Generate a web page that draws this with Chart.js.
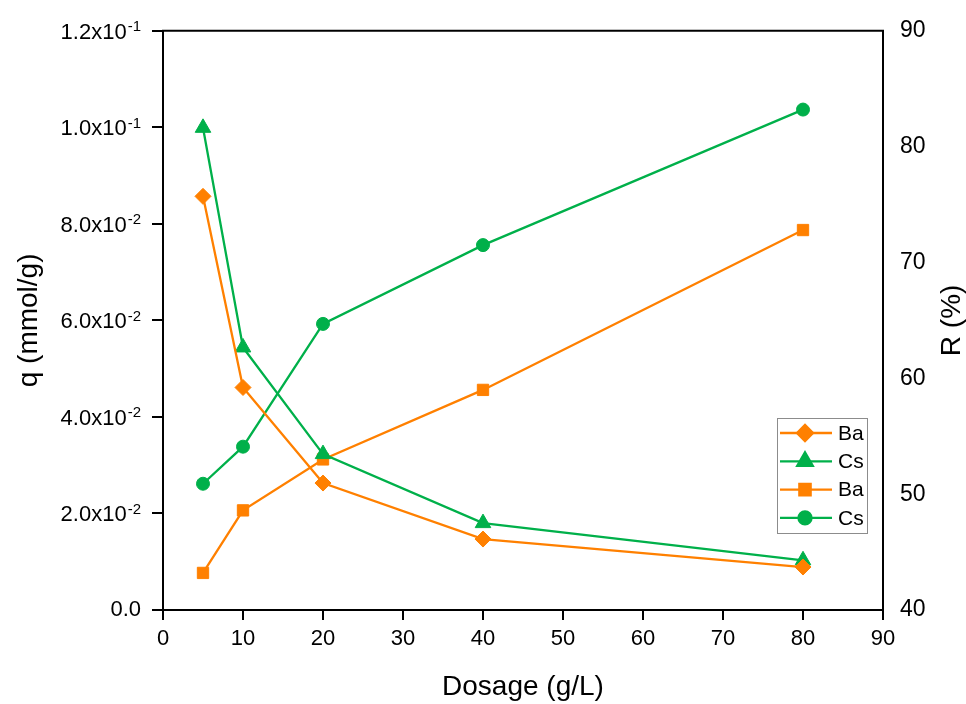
<!DOCTYPE html>
<html>
<head>
<meta charset="utf-8">
<script src="https://cdn.jsdelivr.net/npm/chart.js@4.4.0/dist/chart.umd.min.js"></script>
<style>
  html, body { margin: 0; padding: 0; background: #fff; }
  #wrap { width: 966px; height: 704px; }
</style>
</head>
<body>
<div id="wrap"><canvas id="chart" width="966" height="704"></canvas></div>
<script>
// values
const dosage = [5, 10, 20, 40, 80];
const qBa = [0.0857, 0.0461, 0.0263, 0.0147, 0.0089];
const qCs = [0.0999, 0.0544, 0.0323, 0.0180, 0.0103];
const rBa = [43.2, 48.6, 53.0, 59.0, 72.8];
const rCs = [50.9, 54.1, 64.7, 71.5, 83.2];
const seriesNames = ['Ba', 'Cs', 'Ba', 'Cs'];

const FONT = "'Liberation Sans', Arial, sans-serif";
const ORANGE = '#FF8000';
const GREEN = '#00B04A';

function pts(xs, ys) {
    return xs.map((x, i) => ({ x: x, y: ys[i] }));
}

function series(label, ys, axis, color, style, r) {
    return {
        label: label,
        data: pts(dosage, ys),
        yAxisID: axis,
        borderColor: color,
        backgroundColor: color,
        borderWidth: 2.3,
        pointStyle: style,
        pointRadius: r,
        pointBorderWidth: 1,
        pointBackgroundColor: color,
        pointBorderColor: color,
        tension: 0
    };
}

// q axis labels like 1.2x10^-1
const leftLabels = {
    id: 'leftLabels',
    afterDraw(chart) {
        const s = chart.scales.y;
        const ctx = chart.ctx;
        const right = s.right - 22;
        ctx.save();
        ctx.fillStyle = '#000';
        s.ticks.forEach(t => {
            const v = t.value;
            const y = s.getPixelForValue(v);
            if (Math.abs(v) < 1e-12) {
                ctx.font = '22px ' + FONT;
                ctx.textAlign = 'right';
                ctx.textBaseline = 'middle';
                ctx.fillText('0.0', right, y);
                return;
            }
            const e = Math.floor(Math.log10(v) + 1e-9);
            const main = (v / Math.pow(10, e)).toFixed(1) + 'x10';
            const sup = String(e);
            ctx.font = '15px ' + FONT;
            const ws = ctx.measureText(sup).width;
            ctx.font = '22px ' + FONT;
            const wm = ctx.measureText(main).width;
            const x0 = right - ws - wm - 1;
            ctx.textAlign = 'left';
            ctx.textBaseline = 'alphabetic';
            ctx.fillText(main, x0, y + 8);
            ctx.font = '15px ' + FONT;
            ctx.fillText(sup, x0 + wm + 1, y + 0.5);
        });
        ctx.restore();
    }
};

// top frame line, right title and the legend box
const extras = {
    id: 'extras',
    afterDraw(chart) {
        const ctx = chart.ctx;
        const a = chart.chartArea;
        ctx.save();
        ctx.strokeStyle = '#000';
        ctx.lineWidth = 2;
        ctx.beginPath();
        ctx.moveTo(a.left - 1, a.top);
        ctx.lineTo(a.right + 1, a.top);
        ctx.stroke();

        // R (%) reads bottom to top
        ctx.translate(952, (a.top + a.bottom) / 2);
        ctx.rotate(-Math.PI / 2);
        ctx.font = '28px ' + FONT;
        ctx.fillStyle = '#000';
        ctx.textAlign = 'center';
        ctx.textBaseline = 'middle';
        ctx.fillText('R (%)', 0, 0);
        ctx.restore();

        // legend
        const bx = a.right - 106, by = 418, bw = 90, bh = 115;
        ctx.save();
        ctx.fillStyle = '#fff';
        ctx.fillRect(bx, by, bw, bh);
        ctx.strokeStyle = '#8c8c8c';
        ctx.lineWidth = 1;
        ctx.strokeRect(bx + 0.5, by + 0.5, bw, bh);
        chart.data.datasets.forEach((ds, i) => {
            const y = by + 15 + i * 28.3;
            ctx.strokeStyle = ds.borderColor;
            ctx.fillStyle = ds.borderColor;
            ctx.lineWidth = 2.3;
            ctx.beginPath();
            ctx.moveTo(bx + 3, y);
            ctx.lineTo(bx + 55, y);
            ctx.stroke();
            Chart.helpers.drawPoint(ctx, {
                pointStyle: ds.pointStyle, radius: ds.pointRadius,
                rotation: 0, borderWidth: 1
            }, bx + 28, y);
            ctx.fillStyle = '#000';
            ctx.font = '21px ' + FONT;
            ctx.textAlign = 'left';
            ctx.textBaseline = 'middle';
            ctx.fillText(seriesNames[i], bx + 61, y + 1);
        });
        ctx.restore();
    }
};

new Chart(document.getElementById('chart'), {
    type: 'line',
    data: {
        datasets: [
            series(seriesNames[0], qBa, 'y', ORANGE, 'rectRot', 8),
            series(seriesNames[1], qCs, 'y', GREEN, 'triangle', 9),
            series(seriesNames[2], rBa, 'y1', ORANGE, 'rect', 8),
            series(seriesNames[3], rCs, 'y1', GREEN, 'circle', 6.5)
        ]
    },
    options: {
        responsive: false,
        animation: false,
        layout: { padding: { top: 29, left: 0, right: 0, bottom: 0 } },
        plugins: { legend: { display: false }, tooltip: { enabled: false } },
        scales: {
            x: {
                type: 'linear', min: 0, max: 90,
                ticks: { stepSize: 10, color: '#000', font: { family: FONT, size: 22 }, padding: 6 },
                grid: { drawOnChartArea: false, drawTicks: true, tickLength: 10, color: '#000', lineWidth: 2 },
                border: { display: true, color: '#000', width: 2 },
                title: { display: true, text: 'Dosage (g/L)', color: '#000',
                         font: { family: FONT, size: 28 }, padding: { top: 0, bottom: 0 } },
                afterFit(s) { s.height = 94; }
            },
            y: {
                position: 'left', min: 0, max: 0.12,
                ticks: { stepSize: 0.02, display: false },
                grid: { drawOnChartArea: false, drawTicks: true, tickLength: 11, color: '#000', lineWidth: 2 },
                border: { display: true, color: '#000', width: 2 },
                title: { display: true, text: 'q (mmol/g)', color: '#000',
                         font: { family: FONT, size: 28 }, padding: { top: 12, bottom: 0 } },
                afterFit(s) { s.width = 163; }
            },
            y1: {
                position: 'right', min: 40, max: 90,
                ticks: { stepSize: 10, color: '#000', font: { family: FONT, size: 23 }, padding: 17 },
                grid: { display: false, drawOnChartArea: false, drawTicks: false },
                border: { display: true, color: '#000', width: 2 },
                afterFit(s) { s.width = 83; }
            }
        }
    },
    plugins: [leftLabels, extras]
});
</script>
</body>
</html>
